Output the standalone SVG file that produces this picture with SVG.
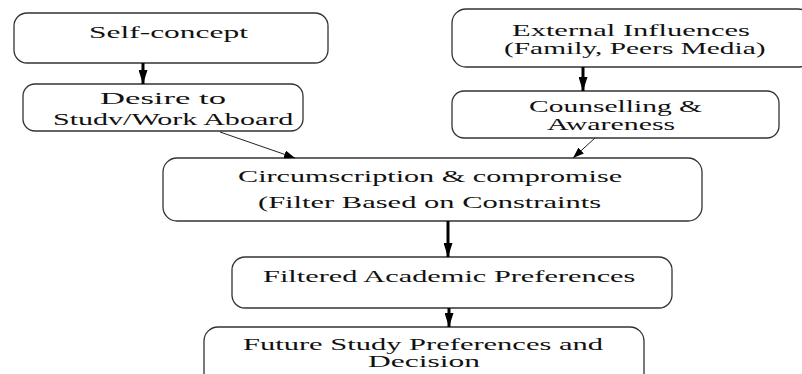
<svg xmlns="http://www.w3.org/2000/svg" width="802" height="374" viewBox="0 0 802 374">
<style>
.box{fill:#fff;stroke:#333;stroke-width:1.3}
.t{font-family:"Liberation Serif","Times New Roman",serif;font-size:16.5px;fill:#111}
.thick{stroke:#000;stroke-width:3;fill:none}
.thin{stroke:#222;stroke-width:1;fill:none}
</style>
<defs>
<marker id="ah" markerUnits="userSpaceOnUse" markerWidth="14" markerHeight="9" refX="14" refY="4.5" orient="auto">
<path d="M0,0 L14,4.5 L0,9 Z" fill="#000"/>
</marker>
<marker id="ahs" markerUnits="userSpaceOnUse" markerWidth="11" markerHeight="8" refX="11" refY="4" orient="auto">
<path d="M0,0 L11,4 L0,8 Z" fill="#000"/>
</marker>
</defs>
<rect width="802" height="374" fill="#fff"/>
<g id="n1">
<rect class="box" x="14" y="13" width="314" height="50" rx="13"/>
<text class="t" transform="translate(89,37.5) scale(1.907,1)">Self-concept</text>
</g>
<g id="n2">
<rect class="box" x="23" y="84" width="280" height="47" rx="12"/>
<text class="t" transform="translate(100,104) scale(2.1,1)">Desire to</text>
<text class="t" transform="translate(53,125) scale(1.82,1)">Studv/Work Aboard</text>
</g>
<g id="n3">
<rect class="box" x="452" y="9" width="360" height="58" rx="14"/>
<text class="t" transform="translate(512,36) scale(1.85,1)">External Influences</text>
<text class="t" transform="translate(504,54) scale(1.78,1)">(Family, Peers Media)</text>
</g>
<g id="n4">
<rect class="box" x="452" y="91" width="327" height="47" rx="12"/>
<text class="t" transform="translate(529,112) scale(1.79,1)">Counselling &amp;</text>
<text class="t" transform="translate(547,130) scale(1.81,1)">Awareness</text>
</g>
<g id="n5">
<rect class="box" x="163" y="158" width="539" height="63" rx="14"/>
<text class="t" transform="translate(238,182) scale(1.83,1)">Circumscription &amp; compromise</text>
<text class="t" transform="translate(258,208) scale(1.85,1)">(Filter Based on Constraints</text>
</g>
<g id="n6">
<rect class="box" x="232" y="257" width="440" height="51" rx="13"/>
<text class="t" transform="translate(263,282) scale(1.84,1)">Filtered Academic Preferences</text>
</g>
<g id="n7">
<rect class="box" x="204" y="327" width="440" height="60" rx="14"/>
<text class="t" transform="translate(243,350) scale(1.85,1)">Future Study Preferences and</text>
<text class="t" transform="translate(368,367) scale(1.91,1)">Decision</text>
</g>
<g id="connectors">
<line class="thick" x1="143" y1="63" x2="143" y2="84" marker-end="url(#ah)"/>
<line class="thick" x1="583" y1="67" x2="583" y2="91" marker-end="url(#ah)"/>
<line class="thick" x1="448" y1="221" x2="448" y2="257" marker-end="url(#ah)"/>
<line class="thick" x1="449" y1="308" x2="449" y2="327" marker-end="url(#ah)"/>
<line class="thin" x1="220" y1="132" x2="295" y2="158" marker-end="url(#ahs)"/>
<line class="thin" x1="595" y1="138" x2="573" y2="158" marker-end="url(#ahs)"/>
</g>
</svg>
